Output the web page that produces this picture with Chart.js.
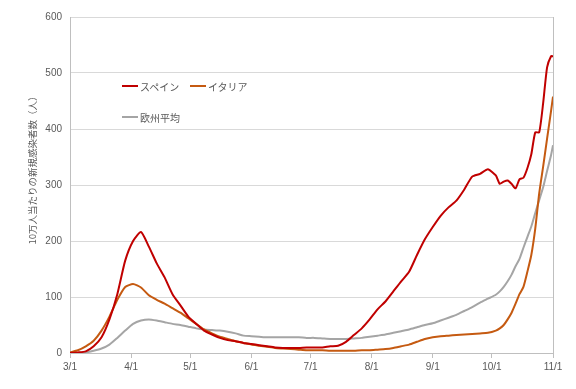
<!DOCTYPE html>
<html>
<head>
<meta charset="utf-8">
<script src="https://cdn.jsdelivr.net/npm/chart.js@4/dist/chart.umd.min.js"></script>
<style>
  html, body { margin: 0; padding: 0; background: #fff; }
  #wrap { position: relative; width: 576px; height: 389px; }
  #legend { position: absolute; left: 0; top: 0; font-family: "Noto Sans CJK JP", sans-serif; font-size: 10px; color: #595959; }
  .item { position: absolute; display: flex; align-items: center; white-space: nowrap; }
  .swatch { width: 16px; height: 2.5px; margin-right: 2px; }
</style>
</head>
<body>
<div id="wrap">
  <canvas id="chart" width="576" height="389"></canvas>
  <div id="legend"></div>
</div>
<script>
// 日数 (3/1 = 0)
const days = [0, 4, 8, 12, 16, 20, 24, 28, 32, 36, 40, 44, 48, 52, 56, 60, 64, 68, 72, 76,
  80, 84, 88, 92, 96, 100, 104, 108, 112, 116, 120, 124, 128, 132, 136, 140, 144, 148, 152, 156,
  160, 164, 168, 172, 176, 180, 184, 188, 192, 196, 200, 204, 208, 212, 216,
  218, 220, 222, 224, 226, 228, 230, 232, 234, 236, 238, 240, 242, 244, 245];

const spain = [0, 1, 3, 12, 28, 60, 105, 165, 200, 216, 190, 160, 135, 105, 85, 65, 52, 40, 33, 27,
  23, 21, 18, 16, 14, 12, 10, 9, 9, 9, 10, 10, 10, 12, 13, 20, 32, 44, 60, 78,
  92, 110, 128, 145, 175, 203, 225, 245, 260, 272, 292, 315, 320, 328, 317,
  302, 306, 308, 302, 294, 310, 313, 330, 355, 394, 394, 446, 510, 530, 530];

const italy = [1, 5, 12, 22, 40, 65, 95, 118, 123, 117, 103, 95, 88, 80, 72, 62, 52, 42, 35, 29,
  25, 21, 18, 15, 13, 11, 9, 8, 7, 6, 5, 5, 5, 4, 4, 4, 4, 5, 5, 6,
  7, 9, 12, 15, 20, 25, 28, 30, 31, 32, 33, 34, 35, 36, 40,
  44, 50, 60, 72, 88, 105, 118, 145, 175, 222, 285, 333, 383, 432, 458];

const europe = [0, 0, 1, 4, 8, 15, 27, 40, 52, 58, 60, 58, 55, 52, 50, 47, 44, 42, 41, 40,
  38, 35, 31, 30, 29, 28, 28, 28, 28, 28, 27, 27, 26, 25, 25, 25, 26, 27, 29, 31,
  33, 36, 39, 42, 46, 50, 53, 58, 63, 68, 75, 82, 90, 97, 104,
  110, 118, 128, 140, 155, 168, 188, 207, 226, 250, 273, 296, 325, 353, 371];

const monthDays = [0, 31, 61, 92, 122, 153, 184, 214, 245];
const monthLabels = ['3/1', '4/1', '5/1', '6/1', '7/1', '8/1', '9/1', '10/1', '11/1'];

const seriesNames = ['スペイン', 'イタリア', '欧州平均'];
const yTitle = '10万人当たりの新規感染者数（人）';

const colors = ['#c00000', '#c55a11', '#a5a5a5'];

function toPoints(vals) {
  return days.map((d, i) => ({ x: d, y: vals[i] }));
}

const datasets = [spain, italy, europe].map((vals, i) => ({
  label: seriesNames[i],
  data: toPoints(vals),
  borderColor: colors[i],
  backgroundColor: colors[i],
  borderWidth: 2,
  pointRadius: 0,
  tension: 0.2,
  fill: false
}));

// y軸タイトルと右枠
const extras = {
  id: 'extras',
  afterDraw(chart) {
    const ctx = chart.ctx;
    const a = chart.chartArea;
    ctx.save();
    ctx.strokeStyle = '#bfbfbf';
    ctx.lineWidth = 1;
    ctx.beginPath();
    ctx.moveTo(Math.round(a.right) + 0.5, a.top);
    ctx.lineTo(Math.round(a.right) + 0.5, a.bottom);
    ctx.stroke();
    ctx.translate(32, 168);
    ctx.rotate(-Math.PI / 2);
    ctx.fillStyle = '#595959';
    ctx.font = '9.5px "Noto Sans CJK JP"';
    ctx.textAlign = 'center';
    ctx.textBaseline = 'middle';
    ctx.fillText(yTitle, 0, 0);
    ctx.restore();
  }
};

const chart = new Chart(document.getElementById('chart'), {
  type: 'line',
  data: { datasets: datasets },
  options: {
    responsive: false,
    animation: false,
    layout: { padding: { left: 0, right: 23, top: 17, bottom: 13 } },
    plugins: {
      legend: { display: false },
      tooltip: { enabled: false }
    },
    scales: {
      x: {
        type: 'linear',
        min: 0,
        max: 245,
        afterBuildTicks: (scale) => {
          scale.ticks = monthDays.map(v => ({ value: v }));
        },
        ticks: {
          autoSkip: false,
          maxRotation: 0,
          padding: 3,
          color: '#595959',
          font: { family: '"Liberation Sans", sans-serif', size: 10 },
          callback: (v) => monthLabels[monthDays.indexOf(v)]
        },
        grid: { drawOnChartArea: false, tickLength: 5, color: '#bfbfbf' },
        border: { color: '#bfbfbf' }
      },
      y: {
        min: 0,
        max: 600,
        ticks: {
          stepSize: 100,
          padding: 8,
          color: '#595959',
          font: { family: '"Liberation Sans", sans-serif', size: 10 }
        },
        afterFit: (scale) => { scale.width = 70; },
        grid: { color: '#d9d9d9', drawTicks: false },
        border: { color: '#bfbfbf' }
      }
    }
  },
  plugins: [extras]
});

// 凡例
const legendPos = [[122, 86], [190, 86], [122, 117]];
const legendEl = document.getElementById('legend');
chart.data.datasets.forEach((ds, i) => {
  const item = document.createElement('div');
  item.className = 'item';
  item.style.left = legendPos[i][0] + 'px';
  item.style.top = (legendPos[i][1] - 7) + 'px';
  item.style.height = '14px';
  const sw = document.createElement('span');
  sw.className = 'swatch';
  sw.style.background = ds.borderColor;
  const tx = document.createElement('span');
  tx.textContent = ds.label;
  item.appendChild(sw);
  item.appendChild(tx);
  legendEl.appendChild(item);
});
</script>
</body>
</html>
